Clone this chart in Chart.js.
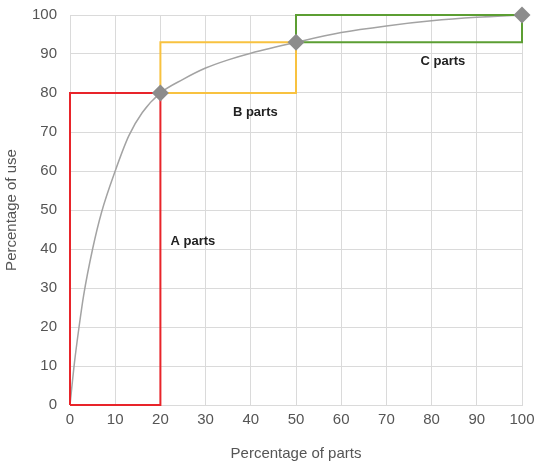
<!DOCTYPE html>
<html>
<head>
<meta charset="utf-8">
<script src="https://cdn.jsdelivr.net/npm/chart.js@4"></script>
<style>
  html, body { margin: 0; padding: 0; background: #fff; }
  #chart__wrap { width: 540px; height: 465px; }
</style>
</head>
<body>
<div id="chart__wrap"><canvas id="chart-canvas" width="540" height="465"></canvas></div>
<script>
// cumulative usage curve
const curveX = [0, 1, 2, 3, 5, 7, 10, 13, 16, 20, 25, 30, 35, 40, 50, 60, 70, 80, 90, 100];
const curveY = [0, 11, 20, 28, 40, 49.5, 60, 69, 75, 80, 83.5, 86.4, 88.5, 90.2, 93, 95.5, 97.2, 98.5, 99.4, 100];

// class break points (diamonds)
const breakX = [20, 50, 100];
const breakY = [80, 93, 100];

// class boxes: A, B, C
const classNames = ["A parts", "B parts", "C parts"];
const classX0 = [0, 20, 50];
const classX1 = [20, 50, 100];
const classY0 = [0, 80, 93];
const classY1 = [80, 93, 100];

// where the class labels sit
const labelX = [27.2, 41, 82.5];
const labelY = [42, 75, 88];

const boxColors = ["#e8242a", "#f8c240", "#5c9e33"];

const pts = (xs, ys) => xs.map((x, i) => ({ x: x, y: ys[i] }));

const boxDatasets = classNames.map((name, i) => ({
  label: name,
  data: pts(
    [classX0[i], classX0[i], classX1[i], classX1[i], classX0[i]],
    [classY0[i], classY1[i], classY1[i], classY0[i], classY0[i]]
  ),
  showLine: true,
  borderColor: boxColors[i],
  borderWidth: 2,
  pointRadius: 0,
  tension: 0,
  clip: false,
}));

const classLabels = {
  id: "classLabels",
  afterDatasetsDraw(chart) {
    const { ctx, scales } = chart;
    ctx.save();
    ctx.font = "bold 13px 'Liberation Sans', Arial, sans-serif";
    ctx.fillStyle = "#222";
    ctx.textAlign = "center";
    ctx.textBaseline = "middle";
    classNames.forEach((name, i) => {
      ctx.fillText(name, scales.x.getPixelForValue(labelX[i]), scales.y.getPixelForValue(labelY[i]));
    });
    ctx.restore();
  },
};

const tickFont = { family: "'Liberation Sans', Arial, sans-serif", size: 15 };

const config = {
  type: "scatter",
  data: {
    datasets: [
      {
        label: "Breaks",
        data: pts(breakX, breakY),
        pointStyle: "rectRot",
        pointRadius: 8.5,
        pointHoverRadius: 8.5,
        backgroundColor: "#8c8c8c",
        borderColor: "#8c8c8c",
        borderWidth: 0,
        showLine: false,
        clip: false,
      },
      ...boxDatasets,
      {
        label: "Usage",
        data: pts(curveX, curveY),
        showLine: true,
        borderColor: "#a3a3a3",
        borderWidth: 1.5,
        pointRadius: 0,
        cubicInterpolationMode: "monotone",
      },
    ],
  },
  options: {
    responsive: false,
    animation: false,
    layout: { padding: { top: 15, right: 18, left: 0, bottom: 0 } },
    plugins: { legend: { display: false }, tooltip: { enabled: false } },
    scales: {
      x: {
        type: "linear",
        min: 0,
        max: 100,
        ticks: { stepSize: 10, color: "#555", font: tickFont, padding: 6 },
        grid: { color: "#dadada", drawTicks: false },
        border: { color: "#dadada" },
        title: {
          display: true,
          text: "Percentage of parts",
          color: "#555",
          font: tickFont,
          padding: { top: 0, bottom: 2 },
        },
        afterFit(axis) {
          axis.height = 60;
          axis.paddingLeft = 0;
          axis.paddingRight = 0;
        },
      },
      y: {
        type: "linear",
        min: 0,
        max: 100,
        ticks: { stepSize: 10, color: "#555", font: tickFont, padding: 13 },
        grid: { color: "#dadada", drawTicks: false },
        border: { color: "#dadada" },
        title: {
          display: true,
          text: "Percentage of use",
          color: "#555",
          font: tickFont,
          padding: { top: 3, bottom: 0 },
        },
        afterFit(axis) {
          axis.width = 70;
          axis.paddingTop = 0;
          axis.paddingBottom = 0;
        },
      },
    },
  },
  plugins: [classLabels],
};

const myChart = new Chart(document.getElementById("chart-canvas"), config);
</script>
</body>
</html>
